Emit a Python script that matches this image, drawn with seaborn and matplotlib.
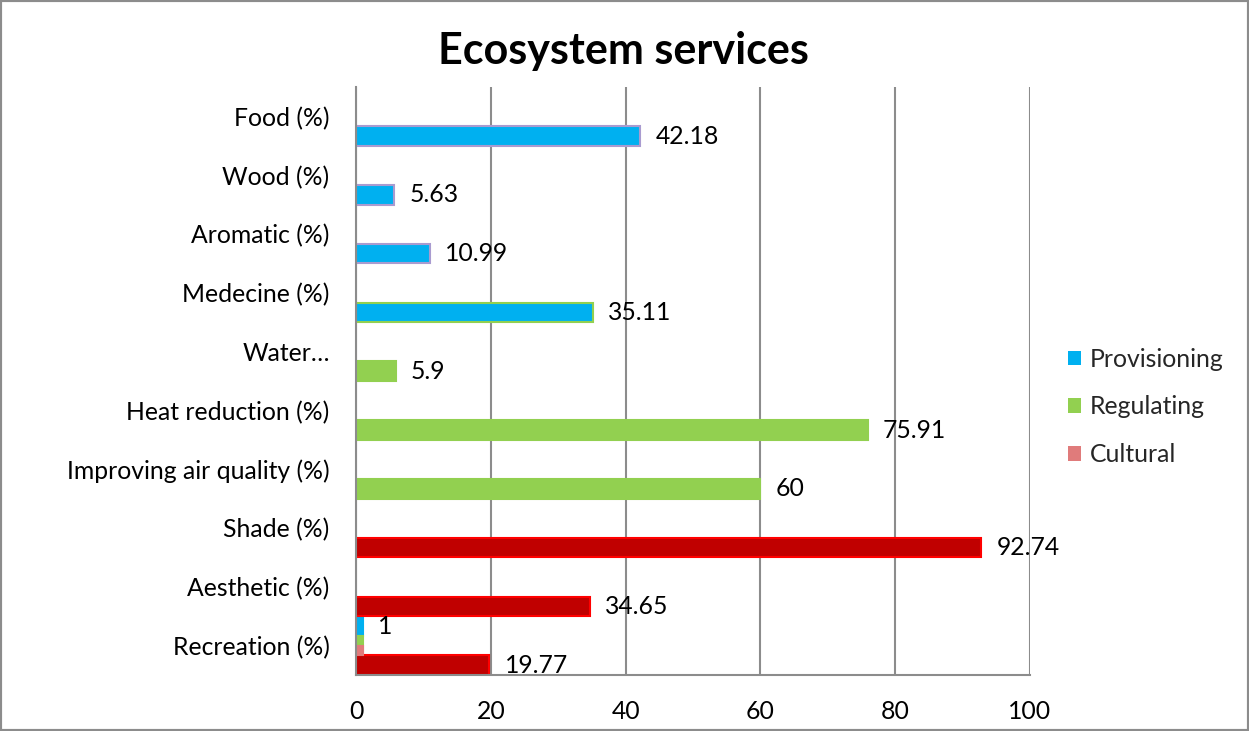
import matplotlib
matplotlib.use("Agg")
import matplotlib.pyplot as plt
from matplotlib.patches import Patch, Rectangle
import seaborn as sns
import pandas as pd

# ---- data ----
categories = ["Food (%)", "Wood (%)", "Aromatic (%)", "Medecine (%)", "Water\u2026",
              "Heat reduction (%)", "Improving air quality (%)", "Shade (%)",
              "Aesthetic (%)", "Recreation (%)"]

prov_cats = ["Food (%)", "Wood (%)", "Aromatic (%)", "Medecine (%)", "Recreation (%)"]
prov_vals = [42.18, 5.63, 10.99, 35.11, 1]
prov_slot = ["c", "c", "c", "c", "a"]

reg_cats = ["Water\u2026", "Heat reduction (%)", "Improving air quality (%)", "Recreation (%)"]
reg_vals = [5.9, 75.91, 60, 1]
reg_slot = ["c", "c", "c", "b"]

cult_cats = ["Shade (%)", "Aesthetic (%)", "Recreation (%)"]
cult_vals = [92.74, 34.65, 19.77]

minor_cult_cats = ["Recreation (%)"]
minor_cult_vals = [1]

x_ticks = [0, 20, 40, 60, 80, 100]
series_names = ["Provisioning", "Regulating", "Cultural"]

# ---- style ----
BLUE, GREEN, RED, PINK = "#00B0F0", "#92D050", "#C00000", "#E07B7B"
GRID = "#8C8C8C"
FONT = "Lato"
FS = 17.8

sns.set_theme(style="white")
plt.rcParams["font.family"] = [FONT, "DejaVu Sans"]

fig = plt.figure(figsize=(12.49, 7.31), dpi=100)
ax = fig.add_axes([356 / 1249, 1 - 675 / 731, (1030 - 356) / 1249, (675 - 87) / 731])

slots3 = ["a", "b", "c"]


def layer(cats, vals, slots, color, edge, hue_order, label=False):
    n_before = len(ax.containers)
    df = pd.DataFrame({"cat": cats, "val": vals, "slot": slots})
    sns.barplot(data=df, y="cat", x="val", hue="slot", order=categories,
                hue_order=hue_order, palette={s: color for s in hue_order},
                orient="h", dodge=True, width=1.0, edgecolor=edge, linewidth=1.5,
                legend=False, ax=ax, errorbar=None, saturation=1)
    if label:
        for cont in ax.containers[n_before:]:
            if len(cont) == 0:
                continue
            txts = ax.bar_label(cont, fmt="%g", padding=11, fontsize=FS, color="black")
            for t in txts:
                t.set_clip_on(True)


# provisioning: purple edge for most, green edge for Medecine
edges = ["#A99BD0", "#A99BD0", "#A99BD0", GREEN, BLUE]
for c, v, s, e in zip(prov_cats, prov_vals, prov_slot, edges):
    layer([c], [v], [s], BLUE, e, slots3, label=True)
for c, v, s in zip(reg_cats, reg_vals, reg_slot):
    layer([c], [v], [s], GREEN, GREEN, slots3, label=(s == "c"))
for c, v in zip(cult_cats, cult_vals):
    layer([c], [v], ["c"], RED, "#FF0000", slots3, label=True)
slots6 = ["s1", "s2", "s3", "s4", "s5", "s6"]
for c, v in zip(minor_cult_cats, minor_cult_vals):
    layer([c], [v], ["s4"], PINK, PINK, slots6)

ax.set_xlim(0, 100)
ax.set_ylim(9.5, -0.5)
ax.set_xticks(x_ticks)
ax.set_xticklabels([str(t) for t in x_ticks])
ax.set_xlabel("")
ax.set_ylabel("")
ax.tick_params(axis="both", length=0, labelsize=FS, colors="black")
ax.tick_params(axis="x", pad=18)
ax.tick_params(axis="y", pad=19)

ax.xaxis.grid(True, color=GRID, linewidth=1.5)
ax.yaxis.grid(False)
ax.set_axisbelow(True)
for side in ["top", "right"]:
    ax.spines[side].set_visible(False)
for side in ["left", "bottom"]:
    ax.spines[side].set_visible(True)
    ax.spines[side].set_color(GRID)
    ax.spines[side].set_linewidth(1.5)

fig.text(623 / 1249, 1 - 64 / 731, "Ecosystem services", ha="center", va="baseline",
         fontsize=31, fontweight="bold", color="black")

handles = [Patch(facecolor=BLUE, edgecolor="none"),
           Patch(facecolor=GREEN, edgecolor="none"),
           Patch(facecolor=PINK, edgecolor="none")]
fig.legend(handles, series_names, loc="center left",
           bbox_to_anchor=(1058 / 1249, 1 - 407 / 731), frameon=False,
           fontsize=FS, handlelength=0.55, handleheight=0.55, handletextpad=0.35,
           labelspacing=1.0, borderaxespad=0)

fig.patches.append(Rectangle((0, 0), 1, 1, transform=fig.transFigure, fill=False,
                             edgecolor="#8C8C8C", linewidth=3, zorder=10))

fig.savefig("out.png", dpi=100)
